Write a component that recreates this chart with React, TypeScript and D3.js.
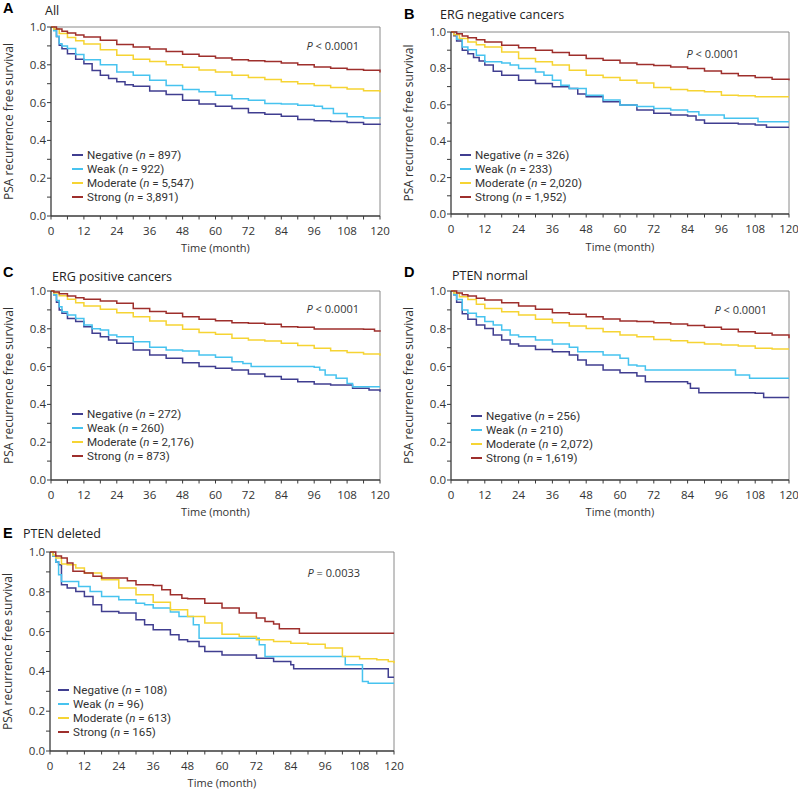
import React from 'react';
import * as d3 from 'd3';

type Pt = [number, number];

const GROUPS = ['Negative', 'Weak', 'Moderate', 'Strong'];
const COLORS = ['#403e90', '#47c3ef', '#f6d433', '#9e2f2c'];
const X_TICKS = d3.range(0, 121, 6);
const X_LABELS = [0, 12, 24, 36, 48, 60, 72, 84, 96, 108, 120];
const Y_TICKS = d3.range(0, 1.0001, 0.1);
const Y_LABELS = [0, 0.2, 0.4, 0.6, 0.8, 1.0];

// Panel A: All
const allNegative: Pt[] = [[0,1],[1,0.985],[2,0.95],[3,0.903],[4,0.885],[6,0.859],[9,0.83],[12,0.806],[15,0.77],[18,0.745],[21,0.728],[24,0.71],[27,0.695],[30,0.687],[36,0.662],[42,0.643],[48,0.613],[54,0.592],[60,0.581],[66,0.569],[72,0.546],[78,0.539],[84,0.528],[90,0.511],[96,0.504],[102,0.5],[108,0.495],[114,0.486],[120,0.482]];
const allWeak: Pt[] = [[0,1],[1,0.98],[2,0.95],[3,0.912],[4,0.9],[6,0.886],[9,0.855],[12,0.827],[18,0.8],[24,0.762],[30,0.745],[36,0.718],[42,0.69],[48,0.669],[54,0.657],[60,0.639],[66,0.62],[72,0.613],[78,0.595],[84,0.592],[90,0.586],[96,0.581],[99,0.569],[103,0.542],[108,0.525],[114,0.518],[120,0.516]];
const allModerate: Pt[] = [[0,1],[1,0.99],[3,0.965],[6,0.945],[9,0.927],[12,0.91],[18,0.88],[24,0.85],[30,0.83],[36,0.818],[42,0.8],[48,0.787],[54,0.772],[60,0.762],[66,0.745],[72,0.733],[78,0.722],[84,0.71],[90,0.7],[96,0.69],[102,0.68],[108,0.672],[114,0.663],[120,0.655]];
const allStrong: Pt[] = [[0,1],[2,0.99],[4,0.978],[6,0.968],[9,0.958],[12,0.947],[18,0.93],[24,0.908],[30,0.894],[36,0.884],[42,0.871],[48,0.856],[54,0.845],[60,0.836],[66,0.827],[72,0.822],[78,0.817],[84,0.81],[90,0.8],[96,0.789],[102,0.782],[108,0.775],[114,0.771],[120,0.759]];

// Panel B: ERG negative cancers
const ergNegNegative: Pt[] = [[0,1],[1,0.98],[2,0.95],[4,0.9],[6,0.88],[8,0.86],[10,0.84],[12,0.818],[15,0.785],[18,0.763],[24,0.735],[30,0.717],[36,0.699],[42,0.69],[45,0.66],[48,0.644],[54,0.617],[60,0.599],[66,0.571],[72,0.553],[78,0.544],[84,0.538],[87,0.516],[90,0.498],[96,0.498],[102,0.495],[108,0.489],[112,0.476],[120,0.476]];
const ergNegWeak: Pt[] = [[0,1],[2,0.96],[4,0.918],[6,0.903],[9,0.872],[12,0.836],[18,0.83],[21,0.818],[24,0.8],[30,0.78],[33,0.763],[36,0.735],[39,0.708],[42,0.69],[48,0.653],[54,0.626],[60,0.599],[66,0.59],[72,0.58],[78,0.571],[84,0.562],[88,0.544],[97,0.526],[109,0.507],[120,0.507]];
const ergNegModerate: Pt[] = [[0,1],[1,0.985],[3,0.964],[6,0.945],[9,0.93],[12,0.918],[18,0.89],[24,0.854],[30,0.836],[36,0.818],[42,0.79],[48,0.763],[54,0.75],[60,0.735],[66,0.72],[72,0.695],[78,0.684],[84,0.677],[90,0.672],[96,0.653],[102,0.65],[108,0.644],[120,0.644]];
const ergNegStrong: Pt[] = [[0,1],[2,0.99],[4,0.978],[6,0.969],[9,0.957],[12,0.945],[18,0.927],[24,0.914],[30,0.9],[36,0.887],[42,0.872],[48,0.854],[54,0.845],[60,0.83],[66,0.821],[72,0.816],[78,0.808],[84,0.8],[90,0.786],[96,0.772],[102,0.759],[108,0.75],[114,0.741],[120,0.735]];

// Panel C: ERG positive cancers
const ergPosNegative: Pt[] = [[0,1],[1,0.98],[2,0.94],[3,0.9],[4,0.882],[6,0.855],[9,0.838],[12,0.811],[15,0.776],[18,0.758],[21,0.741],[24,0.723],[30,0.688],[36,0.661],[42,0.644],[48,0.621],[54,0.6],[60,0.591],[66,0.582],[72,0.561],[78,0.547],[84,0.533],[90,0.52],[96,0.508],[102,0.503],[110,0.485],[116,0.476],[120,0.467]];
const ergPosWeak: Pt[] = [[0,1],[1,0.98],[2,0.95],[3,0.917],[4,0.89],[6,0.873],[9,0.855],[12,0.82],[15,0.8],[18,0.794],[21,0.767],[24,0.758],[30,0.732],[36,0.702],[42,0.688],[48,0.683],[54,0.661],[60,0.649],[66,0.626],[70,0.617],[73,0.6],[96,0.596],[98,0.582],[100,0.556],[104,0.538],[108,0.511],[110,0.494],[120,0.494]];
const ergPosModerate: Pt[] = [[0,1],[1,0.99],[3,0.975],[6,0.956],[9,0.938],[12,0.921],[18,0.903],[24,0.885],[30,0.864],[36,0.841],[42,0.82],[48,0.797],[54,0.78],[60,0.771],[66,0.75],[72,0.741],[78,0.735],[84,0.723],[90,0.711],[96,0.697],[102,0.684],[108,0.674],[114,0.667],[120,0.658]];
const ergPosStrong: Pt[] = [[0,1],[1,0.995],[3,0.985],[6,0.974],[9,0.964],[12,0.956],[18,0.947],[24,0.935],[30,0.908],[36,0.891],[42,0.882],[48,0.864],[54,0.85],[60,0.843],[66,0.832],[72,0.829],[78,0.824],[84,0.811],[90,0.808],[96,0.799],[114,0.797],[118,0.788],[120,0.785]];

// Panel D: PTEN normal
const ptenNormNegative: Pt[] = [[0,1],[1,0.98],[2,0.94],[4,0.88],[6,0.85],[9,0.82],[12,0.802],[15,0.767],[18,0.741],[21,0.72],[24,0.709],[30,0.691],[36,0.679],[42,0.661],[45,0.635],[48,0.608],[54,0.582],[60,0.568],[66,0.55],[69,0.52],[84,0.511],[85,0.485],[88,0.462],[108,0.459],[111,0.437],[120,0.437]];
const ptenNormWeak: Pt[] = [[0,1],[1,0.98],[2,0.955],[4,0.9],[6,0.882],[9,0.864],[12,0.838],[15,0.82],[18,0.794],[21,0.767],[24,0.758],[30,0.741],[36,0.72],[42,0.702],[45,0.679],[54,0.661],[60,0.644],[63,0.608],[66,0.603],[69,0.582],[101,0.556],[106,0.538],[120,0.538]];
const ptenNormModerate: Pt[] = [[0,1],[1,0.99],[3,0.97],[6,0.955],[9,0.93],[12,0.908],[18,0.89],[24,0.873],[30,0.85],[36,0.832],[42,0.815],[48,0.802],[54,0.785],[60,0.767],[66,0.758],[72,0.744],[78,0.737],[84,0.727],[90,0.72],[96,0.714],[102,0.709],[108,0.697],[114,0.693],[120,0.693]];
const ptenNormStrong: Pt[] = [[0,1],[2,0.99],[4,0.98],[6,0.974],[9,0.962],[12,0.952],[18,0.938],[24,0.921],[30,0.903],[36,0.885],[42,0.877],[48,0.864],[54,0.852],[60,0.841],[66,0.838],[72,0.832],[78,0.825],[84,0.817],[90,0.808],[96,0.797],[102,0.785],[108,0.776],[114,0.767],[120,0.75]];

// Panel E: PTEN deleted
const ptenDelNegative: Pt[] = [[0,1],[1,0.98],[2,0.95],[3,0.936],[4,0.836],[6,0.819],[9,0.802],[12,0.777],[15,0.735],[18,0.701],[24,0.693],[30,0.659],[33,0.634],[36,0.609],[42,0.584],[45,0.559],[48,0.55],[52,0.525],[54,0.5],[60,0.483],[72,0.466],[78,0.45],[84,0.433],[85,0.413],[118,0.371],[120,0.371]];
const ptenDelWeak: Pt[] = [[0,1],[1,0.98],[2,0.95],[3,0.886],[4,0.852],[10,0.827],[14,0.802],[18,0.777],[24,0.76],[30,0.743],[33,0.735],[36,0.718],[42,0.698],[45,0.676],[50,0.634],[52,0.567],[73,0.534],[75,0.475],[103,0.433],[109,0.349],[111,0.341],[120,0.341]];
const ptenDelModerate: Pt[] = [[0,1],[1,0.985],[2,0.97],[4,0.94],[6,0.936],[9,0.919],[12,0.894],[18,0.861],[24,0.819],[30,0.785],[36,0.748],[42,0.71],[48,0.676],[54,0.643],[60,0.587],[66,0.575],[72,0.559],[78,0.55],[84,0.542],[90,0.537],[96,0.517],[102,0.475],[108,0.463],[114,0.458],[118,0.45],[120,0.441]];
const ptenDelStrong: Pt[] = [[0,1],[2,0.98],[4,0.97],[6,0.945],[8,0.903],[12,0.894],[15,0.878],[18,0.869],[27,0.856],[30,0.836],[36,0.832],[39,0.81],[42,0.785],[46,0.768],[48,0.765],[54,0.743],[60,0.718],[66,0.693],[72,0.668],[75,0.651],[78,0.638],[80,0.614],[87,0.592],[120,0.592]];

const N_A = ['897', '922', '5,547', '3,891'];
const N_B = ['326', '233', '2,020', '1,952'];
const N_C = ['272', '260', '2,176', '873'];
const N_D = ['256', '210', '2,072', '1,619'];
const N_E = ['108', '96', '613', '165'];

const P_VALUES = ['< 0.0001', '< 0.0001', '< 0.0001', '< 0.0001', '= 0.0033'];
const LETTERS = ['A', 'B', 'C', 'D', 'E'];
const TITLES = ['All', 'ERG negative cancers', 'ERG positive cancers', 'PTEN normal', 'PTEN deleted'];

const FONT = "'Open Sans', 'Noto Sans', sans-serif";
const LEGEND_FONT = "Roboto, 'Liberation Sans', sans-serif";

interface Layout {
  left: number; right: number; top: number; bottom: number;
  letter: [number, number]; title: [number, number]; p: [number, number]; legend: [number, number];
  xlabGap: number;
}

const LAYOUTS: Layout[] = [
  { left: 51, right: 380, top: 27, bottom: 216, letter: [3, 13], title: [45, 15], p: [359, 50], legend: [72, 155], xlabGap: 36 },
  { left: 451, right: 789, top: 32, bottom: 214, letter: [404, 19], title: [440, 19], p: [739, 58], legend: [460, 155], xlabGap: 37 },
  { left: 51, right: 380, top: 291, bottom: 480, letter: [3, 277], title: [52, 281], p: [359, 313], legend: [72, 414], xlabGap: 36 },
  { left: 451, right: 789, top: 291, bottom: 480, letter: [404, 277], title: [452, 280], p: [767, 314], legend: [471, 416], xlabGap: 36 },
  { left: 50, right: 394, top: 552, bottom: 751, letter: [3, 538], title: [23, 538], p: [360, 577], legend: [58, 690], xlabGap: 36 },
];

function Panel({ idx, series, ns }: { idx: number; series: Pt[][]; ns: string[] }) {
  const L = LAYOUTS[idx];
  const x = d3.scaleLinear().domain([0, 120]).range([L.left, L.right]);
  const y = d3.scaleLinear().domain([0, 1]).range([L.bottom, L.top]);
  const line = d3.line<Pt>().x(d => x(d[0])).y(d => y(d[1])).curve(d3.curveStepAfter);
  const axisColor = '#3a3a3a';
  return (
    <g>
      <text x={L.letter[0]} y={L.letter[1]} fontFamily="Arial, 'Liberation Sans', sans-serif" fontWeight="bold" fontSize={14.5}>{LETTERS[idx]}</text>
      <text x={L.title[0]} y={L.title[1]} fontFamily={FONT} fontSize={12.5} fill="#222">{TITLES[idx]}</text>
      {/* frame */}
      <line x1={L.left} x2={L.right} y1={L.top} y2={L.top} stroke="#8a8a8a" strokeWidth={1} />
      <line x1={L.right} x2={L.right} y1={L.top} y2={L.bottom} stroke="#8a8a8a" strokeWidth={1} />
      {/* curves */}
      {series.map((s, i) => (
        <path key={i} d={line(s) || ''} fill="none" stroke={COLORS[i]} strokeWidth={1.5} />
      ))}
      {/* axes */}
      <line x1={L.left} x2={L.right} y1={L.bottom} y2={L.bottom} stroke={axisColor} strokeWidth={1.3} />
      <line x1={L.left} x2={L.left} y1={L.top} y2={L.bottom} stroke={axisColor} strokeWidth={1.3} />
      {X_TICKS.map(t => (
        <line key={'xt' + t} x1={x(t)} x2={x(t)} y1={L.bottom} y2={L.bottom + 3.5} stroke={axisColor} strokeWidth={1} />
      ))}
      {X_LABELS.map(t => (
        <text key={'xl' + t} x={x(t)} y={L.bottom + 18.5} textAnchor="middle" fontFamily={FONT} fontSize={11.5} fill="#333">{t}</text>
      ))}
      {Y_TICKS.map((t, i) => (
        <line key={'yt' + i} x1={L.left - 4} x2={L.left} y1={y(t)} y2={y(t)} stroke={axisColor} strokeWidth={1} />
      ))}
      {Y_LABELS.map((t, i) => (
        <text key={'yl' + i} x={L.left - 5} y={y(t) + 4} textAnchor="end" fontFamily={FONT} fontSize={11.5} fill="#333">{t.toFixed(1)}</text>
      ))}
      <text x={(L.left + L.right) / 2} y={L.bottom + L.xlabGap} textAnchor="middle" fontFamily={FONT} fontSize={11} fill="#333">Time (month)</text>
      <text transform={`translate(${L.left - 38},${(L.top + L.bottom) / 2}) rotate(-90)`} textAnchor="middle" fontFamily={FONT} fontSize={12} fill="#333">PSA recurrence free survival</text>
      <text x={L.p[0]} y={L.p[1]} textAnchor="end" fontFamily={FONT} fontSize={11} fill="#333">
        <tspan fontStyle="italic">P</tspan>{' ' + P_VALUES[idx]}
      </text>
      {GROUPS.map((g, i) => (
        <g key={g}>
          <line x1={L.legend[0]} x2={L.legend[0] + 11} y1={L.legend[1] + i * 14} y2={L.legend[1] + i * 14} stroke={COLORS[i]} strokeWidth={2} />
          <text x={L.legend[0] + 15} y={L.legend[1] + i * 14 + 4.2} fontFamily={LEGEND_FONT} fontSize={11.6} fill="#333">
            {g + ' ('}<tspan fontStyle="italic">n</tspan>{' = ' + ns[i] + ')'}
          </text>
        </g>
      ))}
    </g>
  );
}

export default function App() {
  return (
    <svg width={798} height={790} style={{ position: 'absolute', left: 0, top: 0, background: '#fff' }}>
      <rect x={0} y={0} width={798} height={790} fill="#fff" />
      <Panel idx={0} series={[allNegative, allWeak, allModerate, allStrong]} ns={N_A} />
      <Panel idx={1} series={[ergNegNegative, ergNegWeak, ergNegModerate, ergNegStrong]} ns={N_B} />
      <Panel idx={2} series={[ergPosNegative, ergPosWeak, ergPosModerate, ergPosStrong]} ns={N_C} />
      <Panel idx={3} series={[ptenNormNegative, ptenNormWeak, ptenNormModerate, ptenNormStrong]} ns={N_D} />
      <Panel idx={4} series={[ptenDelNegative, ptenDelWeak, ptenDelModerate, ptenDelStrong]} ns={N_E} />
    </svg>
  );
}
